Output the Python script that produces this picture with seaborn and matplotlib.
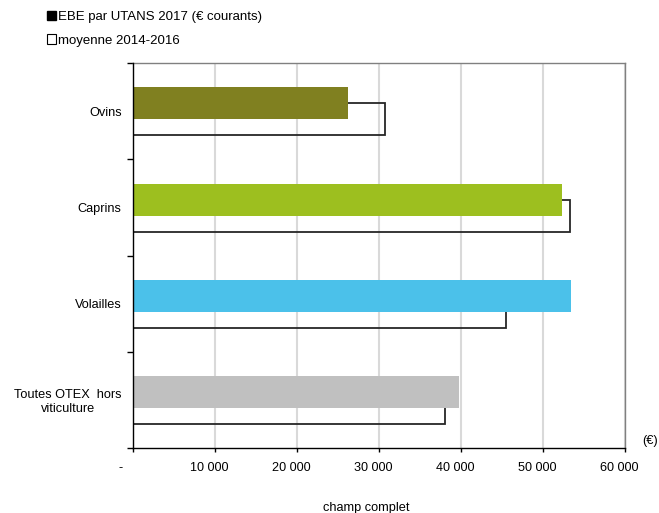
import matplotlib
matplotlib.use("Agg")
import matplotlib.pyplot as plt
import matplotlib.transforms as mtransforms
from matplotlib.patches import Patch
import seaborn as sns
import pandas as pd

categories = ["Ovins", "Caprins", "Volailles", "Toutes OTEX  hors\nviticulture"]
ebe_2017 = [26200, 52300, 53400, 39800]
moyenne_2014_2016 = [30800, 53350, 45550, 38100]
bar_colors = ["#808020", "#9DBF1F", "#4BC1EA", "#C0C0C0"]
x_ticks = [0, 10000, 20000, 30000, 40000, 50000, 60000]
x_tick_labels = ["-", "10 000", "20 000", "30 000", "40 000", "50 000", "60 000"]
legend_labels = ["EBE par UTANS 2017 (€ courants)", "moyenne 2014-2016"]
unit_label = "(€)"
footer = "champ complet"

sns.set_theme(style="white")
plt.rcParams["font.family"] = ["Liberation Sans", "DejaVu Sans"]
plt.rcParams["text.color"] = "black"

df = pd.DataFrame({"categorie": categories, "ebe": ebe_2017, "moy": moyenne_2014_2016})

W, H = 659, 513
fig = plt.figure(figsize=(W / 100, H / 100), dpi=100)
left, right, top, bottom = 132.8, 625.0, 63.3, 448.0
ax = fig.add_axes([left / W, 1 - bottom / H, (right - left) / W, (bottom - top) / H])

bar_h = 0.332
off = 0.083

# mean 2014-2016: outline bars, behind
sns.barplot(data=df, x="moy", y="categorie", orient="h", fill=False, color="#262626",
            linewidth=1.3, width=bar_h, errorbar=None, ax=ax)
n1 = len(ax.patches)
for p in ax.patches[:n1]:
    p.set_y(p.get_y() + off)
    p.set_zorder(2)

# 2017 filled bars, in front
sns.barplot(data=df, x="ebe", y="categorie", hue="categorie", palette=bar_colors,
            saturation=1, legend=False, orient="h", width=bar_h, errorbar=None,
            linewidth=0, ax=ax)
for p in ax.patches[n1:]:
    p.set_y(p.get_y() - off)
    p.set_zorder(3)

ax.set_xlim(0, 60000)
ax.set_ylim(3.5, -0.5)
ax.set_xticks(x_ticks, x_tick_labels)
ax.set_xlabel("")
ax.set_ylabel("")

ax.set_axisbelow(True)
ax.xaxis.grid(True, color="#D9D9D9", linewidth=1.5)
ax.yaxis.grid(False)

for s in ["left", "bottom"]:
    ax.spines[s].set_color("black")
    ax.spines[s].set_linewidth(1.0)
    ax.spines[s].set_zorder(4)
for s in ["top", "right"]:
    ax.spines[s].set_color("#808080")
    ax.spines[s].set_linewidth(1.0)

ax.tick_params(axis="x", bottom=True, direction="out", length=3, width=1,
               color="black", pad=7, labelsize=9.1, labelcolor="black")
ax.tick_params(axis="y", which="major", left=False, length=0, pad=8,
               labelsize=9.2, labelcolor="black")
ax.set_yticks([-0.5, 0.5, 1.5, 2.5, 3.5], minor=True)
ax.tick_params(axis="y", which="minor", left=True, length=4, width=1,
               color="black", direction="out")
for lbl in ax.get_yticklabels():
    lbl.set_multialignment("center")
    lbl.set_linespacing(1.15)

for i, lbl in enumerate(ax.get_xticklabels()):
    dx = -12 if i == 0 else -5.5
    lbl.set_transform(lbl.get_transform() +
                      mtransforms.ScaledTranslation(dx / 100, 0, fig.dpi_scale_trans))

handles = [Patch(facecolor="black", edgecolor="black"),
           Patch(facecolor="white", edgecolor="black", linewidth=0.8)]
fig.legend(handles=handles, labels=legend_labels, loc="upper left",
           bbox_to_anchor=(47 / W, 1 - 11 / H), frameon=False, fontsize=9.5,
           handlelength=0.7, handleheight=0.7, handletextpad=0.12,
           labelspacing=0.85, borderaxespad=0, borderpad=0)

fig.text(650 / W, 1 - 441 / H, unit_label, ha="center", va="center", fontsize=9.2)
fig.text(366 / W, 1 - 508 / H, footer, ha="center", va="center", fontsize=9.2)

fig.savefig("out.png", dpi=100)
